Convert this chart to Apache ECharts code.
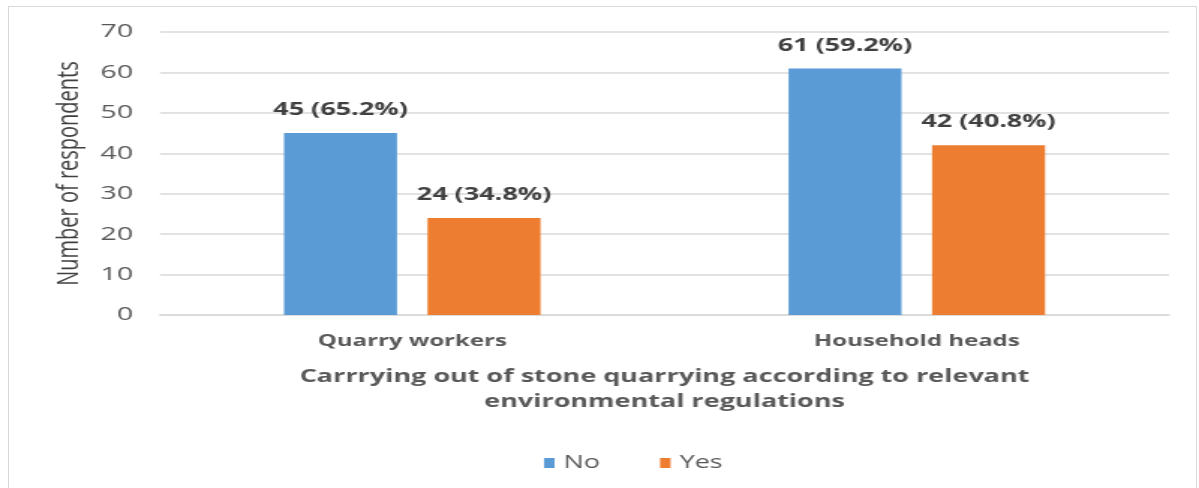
<!DOCTYPE html>
<html>
<head>
<meta charset="utf-8">
<script src="https://cdn.jsdelivr.net/npm/echarts@6/dist/echarts.min.js"></script>
<style>
  html, body { margin: 0; padding: 0; background: #ffffff; overflow: hidden; }
  #frame { position: absolute; left: 8px; top: 6px; width: 1189px; height: 490px; border: 1px solid #d9d9d9; box-sizing: border-box; }
  /* The chart is laid out on an 800px-wide canvas and shown widened to the full page width */
  #chart { width: 800px; height: 488px; position: absolute; left: 0; top: 0; transform-origin: 0 0; transform: scaleX(1.49875); }
</style>
</head>
<body>
<div id="frame"></div>
<div id="chart"></div>
<script>
// Respondent groups and their answers
const categories = ['Quarry workers', 'Household heads'];
const noValues = [45, 61];
const yesValues = [24, 42];
const noShares = ['65.2%', '59.2%'];
const yesShares = ['34.8%', '40.8%'];
const yTicks = { min: 0, max: 70, interval: 10 };

const FONT = 'Open Sans, DejaVu Sans, sans-serif';
const chart = echarts.init(document.getElementById('chart'));

function valueLabel(shares) {
  return {
    show: true,
    position: 'top',
    distance: 14,
    color: '#404040',
    fontFamily: FONT,
    fontWeight: 'bold',
    fontSize: 18,
    formatter: p => p.value + ' (' + shares[p.dataIndex] + ')'
  };
}

chart.setOption({
  animation: false,
  grid: { left: 106.76, right: 20, top: 32, bottom: 173 },
  legend: {
    data: ['No', 'Yes'],
    bottom: 11,
    left: 358,
    itemWidth: 7,
    itemHeight: 10,
    itemGap: 40,
    icon: 'rect',
    textStyle: { color: '#595959', fontSize: 18, fontFamily: FONT, padding: [0, 0, 0, 1] }
  },
  xAxis: {
    type: 'category',
    data: categories,
    name: 'Carrrying out of stone quarrying according to relevant\nenvironmental regulations',
    nameLocation: 'middle',
    nameGap: 49,
    nameTextStyle: { color: '#595959', fontSize: 18, fontWeight: 'bold', lineHeight: 25, fontFamily: FONT },
    axisLine: { lineStyle: { color: '#d9d9d9', width: 1.5 } },
    axisTick: { show: false },
    axisLabel: { color: '#595959', fontSize: 16, fontWeight: 'bold', margin: 18, fontFamily: FONT }
  },
  yAxis: {
    type: 'value',
    min: yTicks.min,
    max: yTicks.max,
    interval: yTicks.interval,
    name: 'Number of respondents',
    nameLocation: 'middle',
    nameGap: 46,
    nameRotate: 90,
    nameTextStyle: { color: '#404040', fontSize: 20, fontFamily: FONT },
    axisLine: { show: false },
    axisTick: { show: false },
    axisLabel: { color: '#595959', fontSize: 19, margin: 18, fontFamily: FONT },
    splitLine: { lineStyle: { color: '#d9d9d9', width: 1.5 } }
  },
  series: [
    {
      name: 'No',
      type: 'bar',
      data: noValues,
      barWidth: 75.4,
      barGap: '27%',
      itemStyle: { color: '#5b9bd5' },
      label: valueLabel(noShares)
    },
    {
      name: 'Yes',
      type: 'bar',
      data: yesValues,
      barWidth: 75.4,
      itemStyle: { color: '#ed7d31' },
      label: valueLabel(yesShares)
    }
  ]
});
</script>
</body>
</html>
